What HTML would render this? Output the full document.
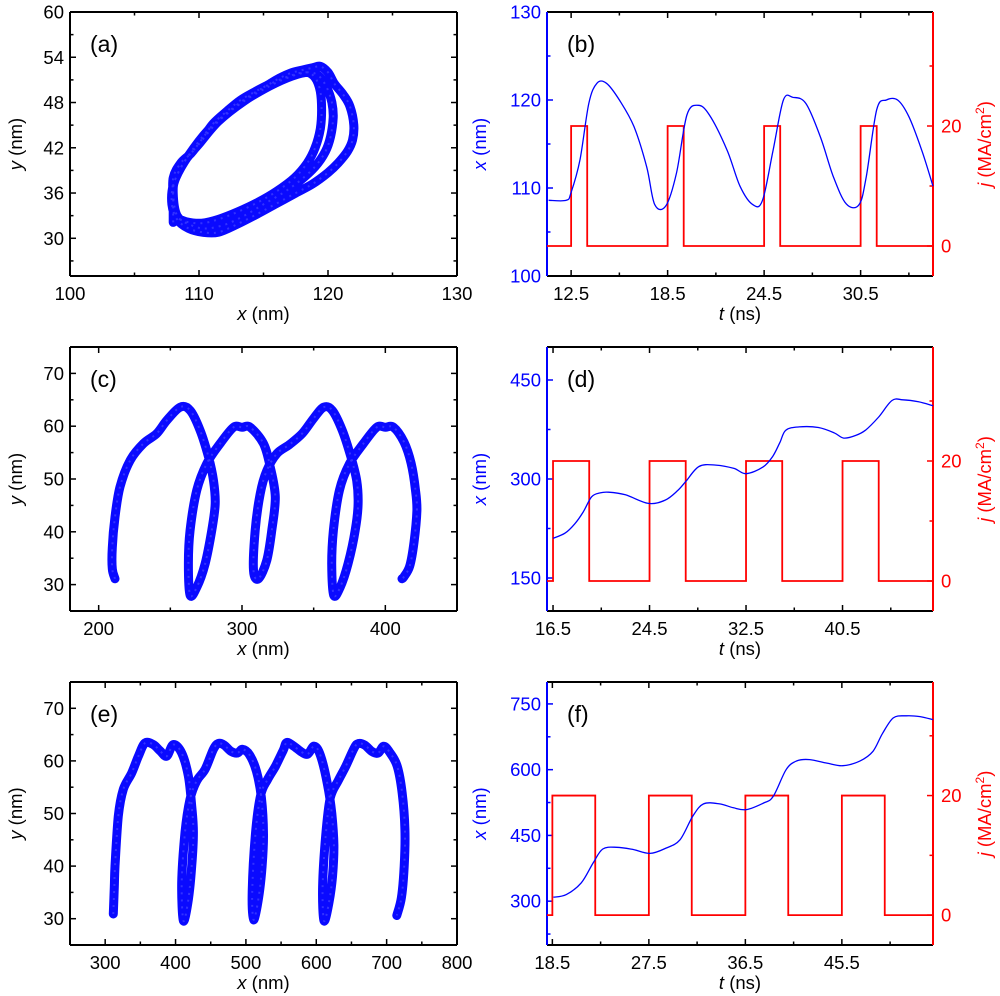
<!DOCTYPE html>
<html><head><meta charset="utf-8"><style>
body{margin:0;background:#fff}
svg{display:block;font-family:"Liberation Sans",Arial,sans-serif}
</style></head><body>
<svg id="fig" width="1000" height="996" viewBox="0 0 1000 996" xmlns="http://www.w3.org/2000/svg"></svg>
<script>
// ---------- DATA ----------
// (a) trajectory
const aX=[108.0,108.0,108.0,108.6,109.4,110.3,111.1,112.2,113.2,114.3,115.3,116.2,117.1,118.0,118.8,119.4,120.0,120.5,121.2,121.7,122.0,121.9,121.5,120.8,120.0,118.8,117.5,116.0,114.5,113.0,111.5,110.3,109.2,108.3,107.9,108.0,108.8,110.0,111.5,113.5,115.5,117.2,118.5,119.3,119.9,120.3,120.4,120.2,119.8,119.0,117.8,116.5,115.0,113.5,112.0,110.5,109.3,108.3,108.0,108.2,109.2,110.8,112.8,115.0,117.0,118.3,119.0,119.4,119.5,119.4,119.0,118.4,117.4,116.0,114.6,113.0,111.5,110.2,109.0,108.2];
const aY=[32.1,35,38,40,41.3,43.3,45.2,46.9,48.3,49.4,50.3,51.2,51.9,52.3,52.6,52.8,52,50.5,49,47.5,45,43,41.5,40,38.7,37.2,36,34.6,33.2,31.9,30.8,30.8,31.3,32.5,34.5,37,40,42.5,45.5,48.2,50.2,51.5,52,51.5,50,48,46,43.5,41.5,39.5,37.6,36,34.5,33,31.8,31.3,31.8,33,36,38,41,44.5,47.5,50,51.5,52,51.3,49.5,47,44.5,42,40,38,36.2,34.8,33.5,32.5,32,32.2,32.8];
// (c) trajectory
const cX=[211.4,209.5,209.5,211.4,214.9,221.9,231.2,240.5,247.5,256.8,263.8,270.8,276.6,280.1,281.3,278.9,274.3,268.5,263.8,262.6,263.8,268.5,275.4,284.7,294.1,300,305.7,315,319.7,323.2,320.8,317.3,311.5,308,309.2,312.7,317.3,324.3,333,342,350,357,363,370,376,380,381,379,374,368.5,364,362.6,363.8,368,375,384.7,394,400,405.7,413,418,421,422,420,417,413,411.6];
const cY=[31.1,33,37,42.8,48.5,53.5,56.7,58.6,61.1,63.6,63,59.2,54.2,49.7,45.3,40.3,34,29.5,28,34,40.3,47.9,52.9,56.7,59.8,59.8,59.8,56.7,52.3,46.6,40.3,34.6,31.1,32.7,40.3,47.2,51.6,54.8,56.5,58.6,61.5,63.6,63,59.2,54.2,49.7,45.3,40.3,34,29.5,28,34,40.3,47.9,52.9,56.7,59.8,59.8,59.8,57,53,48,44,38,33.5,31.5,31.1];
// (e) trajectory
const eX=[311.6,313,314,318.7,325.8,337.7,347.2,356.6,368.5,378,387.4,396.9,408.8,418.2,423,425.4,423,418.2,411.1,408.8,413.5,420.6,430,442,453.8,460.9,469,479,488,495,505,515,522,525,523,518,511,509,513.5,521,531,542,553,558,568,579,588,597,606,616,622,625,623,618,611,609,613.5,620,631,642,654,660,669,679,688,696,705,715,722,726,725,721,714.4];
const eY=[30.9,36,40,49.5,54.6,57.7,60.9,63.4,63.1,61.9,60.9,63.1,61.5,57.1,51.4,46.4,40,33.7,29.6,36.9,46.4,52.7,56.2,58.4,62.2,63.3,63,61.8,61.5,62.2,61.2,58,53,46,40,34,29.8,35,46,53.5,56.5,59,62,63.5,62.8,61.7,61.3,62.8,61,55.5,50,44,38,33,29.6,36,46,53,56.2,59,62.5,63.3,63,61.8,61.5,62.8,61.5,59,54,47,40,34,30.6];
// (b) x(t) and j(t)
const bT=[11.1,12.2,12.5,13.05,13.6,14.1,14.7,15.5,16.4,17.2,17.7,18.4,19.05,19.7,20.4,21.1,22.2,23.0,23.8,24.4,25.06,25.7,26.3,27.1,28.0,28.8,29.6,30.4,30.85,31.5,32.1,32.8,33.5,34.3,35.0];
const bXv=[108.6,108.6,109.5,113.2,119.6,121.9,121.9,120,117,112.4,108.1,108,111.7,118.3,119.4,118.3,114.3,110.2,108.1,108.6,114.3,120,120.3,119.6,115.8,111.3,108.2,108.1,111.3,118.9,120,120,118.1,114.3,110.2];
const bPulseStart=[12.5,18.5,24.5,30.5];
const bPulseEnd=[13.5,19.5,25.5,31.5];
// (d)
const dT=[16.5,17.5,18.3,19.0,19.7,20.4,21.1,22.5,24.4,25.8,26.8,27.5,28.6,30.0,31.5,32.5,33.9,34.7,35.3,35.8,36.9,38.5,39.8,40.6,41.6,42.4,43.5,44.6,45.5,46.8,48.0];
const dXv=[210,218,232,250,273,279,280,276,263,268,282,296,319,321,316,308,318,334,355,374,379,378,370,362,366,374,394,419,420,417,411];
const dPulseStart=[16.5,24.5,32.5,40.5];
const dPulseEnd=[19.5,27.5,35.5,43.5];
// (f)
const fT=[18.6,19.8,21.2,22.3,23.2,24.5,26.0,27.6,29.1,30.4,31.6,32.6,34.1,35.4,36.6,38.2,39.1,40.3,41.3,42.5,44.1,45.6,47.2,48.4,49.3,50.3,51.5,52.8,54.0];
const fXv=[309,315,342,387,419,423,418,409,421,440,494,522,522,513,509,524,539,600,620,623,615,609,620,642,683,718,723,721,714];
const fPulseStart=[18.5,27.5,36.5,45.5];
const fPulseEnd=[22.5,31.5,40.5,49.5];
const jHigh=20;
// tick labels
const aXTicks=[100,110,120,130], aYTicks=[30,36,42,48,54,60];
const cXTicks=[200,300,400], cYTicks=[30,40,50,60,70];
const eXTicks=[300,400,500,600,700,800], eYTicks=[30,40,50,60,70];
const bTTicks=[12.5,18.5,24.5,30.5], bYTicks=[100,110,120,130];
const dTTicks=[16.5,24.5,32.5,40.5], dYTicks=[150,300,450];
const fTTicks=[18.5,27.5,36.5,45.5], fYTicks=[300,450,600,750];
const jTicks=[0,20];

// ---------- DRAW ----------
const NS="http://www.w3.org/2000/svg";
const svg=document.getElementById('fig');
const FS=18.5;
function mk(tag,attrs,parent){const e=document.createElementNS(NS,tag);for(const k in attrs)e.setAttribute(k,attrs[k]);(parent||svg).appendChild(e);return e;}
function scale(d0,d1,r0,r1){return v=>r0+(v-d0)*(r1-r0)/(d1-d0);}

function panel(P){
  const g=mk('g',{});
  
  
  const [L,T,R,B]=P.box;
  const sx=scale(P.xd[0],P.xd[1],L,R), sy=scale(P.yd[0],P.yd[1],B,T);
  P.sx=sx;P.sy=sy;
  const lc=P.leftColor||'#000', rc=P.rightColor||'#000';
  function tick(x1,y1,x2,y2,c){mk('line',{x1,y1,x2,y2,stroke:c,'stroke-width':1.5},g);}
  P.xMajor.forEach(v=>{const x=sx(v);tick(x,B,x,B-6,'#000');tick(x,T,x,T+6,'#000');});
  P.xMinor.forEach(v=>{const x=sx(v);tick(x,B,x,B-3.5,'#000');tick(x,T,x,T+3.5,'#000');});
  P.yMajor.forEach(v=>{const y=sy(v);tick(L,y,L+6,y,lc);if(!P.sj)tick(R,y,R-6,y,'#000');});
  P.yMinor.forEach(v=>{const y=sy(v);tick(L,y,L+3.5,y,lc);if(!P.sj)tick(R,y,R-3.5,y,'#000');});
  if(P.sj){
    P.jMajor.forEach(v=>{const y=P.sj(v);tick(R,y,R-6,y,rc);});
    P.jMinor.forEach(v=>{const y=P.sj(v);tick(R,y,R-3.5,y,rc);});
  }
  mk('line',{x1:L,y1:T,x2:R,y2:T,stroke:'#000','stroke-width':2},g);
  mk('line',{x1:L,y1:B,x2:R,y2:B,stroke:'#000','stroke-width':2},g);
  mk('line',{x1:L,y1:T,x2:L,y2:B,stroke:lc,'stroke-width':2},g);
  mk('line',{x1:R,y1:T,x2:R,y2:B,stroke:rc,'stroke-width':2},g);
  P.xLabels.forEach(v=>{const t=mk('text',{x:sx(v),y:B+24,'text-anchor':'middle','font-size':FS,fill:'#000'},g);t.textContent=String(v);});
  P.yLabels.forEach(v=>{const t=mk('text',{x:L-6,y:sy(v)+6.5,'text-anchor':'end','font-size':FS,fill:lc},g);t.textContent=String(v);});
  if(P.sj) P.jLabels.forEach(v=>{const t=mk('text',{x:R+8,y:P.sj(v)+6.5,'text-anchor':'start','font-size':FS,fill:rc},g);t.textContent=String(v);});
  const xt=mk('text',{x:(L+R)/2,y:B+44,'text-anchor':'middle','font-size':FS,fill:'#000'},g);
  
  const i1=mk('tspan',{'font-style':'italic'},xt);i1.textContent=P.xTitle[0];const i2=mk('tspan',{},xt);i2.textContent=P.xTitle[1];
  const cy=(T+B)/2;
  const ytx=P.yTitleX;
  const yt=mk('text',{x:ytx,y:cy,'text-anchor':'middle','font-size':FS,fill:lc,transform:`rotate(-90 ${ytx} ${cy})`},g);
  
  const y1=mk('tspan',{'font-style':'italic'},yt);y1.textContent=P.yTitle[0];const y2=mk('tspan',{},yt);y2.textContent=' (nm)';
  if(P.sj){
    const jx=R+58;
    const jt=mk('text',{x:jx,y:cy,'text-anchor':'middle','font-size':FS,fill:rc,transform:`rotate(-90 ${jx} ${cy})`},g);
    
    const j1=mk('tspan',{'font-style':'italic'},jt);j1.textContent='j';
    const j2=mk('tspan',{},jt);j2.textContent=' (MA/cm';
    const j3=mk('tspan',{'font-size':12,dy:-7},jt);j3.textContent='2';
    const j4=mk('tspan',{dy:7},jt);j4.textContent=')';
  }
  const lab=mk('text',{x:L+20,y:T+40,'font-size':23,fill:'#000'},g);
  
  lab.textContent='('+P.id+')';
  return g;
}
// Catmull-Rom smooth path
function smooth(xs,ys,sx,sy){
  const p=xs.map((v,i)=>[sx(v),sy(ys[i])]);
  let d='M'+p[0][0].toFixed(1)+','+p[0][1].toFixed(1);
  for(let i=0;i<p.length-1;i++){
    const p0=p[i-1]||p[i],p1=p[i],p2=p[i+1],p3=p[i+2]||p2;
    const c1=[p1[0]+(p2[0]-p0[0])/6,p1[1]+(p2[1]-p0[1])/6];
    const c2=[p2[0]-(p3[0]-p1[0])/6,p2[1]-(p3[1]-p1[1])/6];
    d+='C'+c1[0].toFixed(1)+','+c1[1].toFixed(1)+' '+c2[0].toFixed(1)+','+c2[1].toFixed(1)+' '+p2[0].toFixed(1)+','+p2[1].toFixed(1);
  }
  return d;
}
function traj(P,xs,ys){
  const d=smooth(xs,ys,P.sx,P.sy);
  const p=mk('path',{d,fill:'none',stroke:'#0a0aff','stroke-width':9,'stroke-linejoin':'round','stroke-linecap':'round'});
  
  
  const p2=mk('path',{d,fill:'none',stroke:'#5a5aff','stroke-width':2,'stroke-opacity':0.5,'stroke-dasharray':'2 5'});
  
  
}
function timeSeries(P,ts,xs,ps,pe){
  const sj=P.sj;const t0=P.xd[0],t1=P.xd[1];
  let d='M'+P.sx(t0)+','+sj(0);
  ps.forEach((s,i)=>{d+='L'+P.sx(s)+','+sj(0)+'L'+P.sx(s)+','+sj(jHigh)+'L'+P.sx(pe[i])+','+sj(jHigh)+'L'+P.sx(pe[i])+','+sj(0);});
  d+='L'+P.sx(t1)+','+sj(0);
  const r=mk('path',{d,fill:'none',stroke:'#ff0000','stroke-width':1.8});
  
  
  const b=mk('path',{d:smooth(ts,xs,P.sx,P.sy),fill:'none',stroke:'#0000ff','stroke-width':1.3,'stroke-linejoin':'round'});
  
  
}

const A={id:'a',box:[70,12,457,276],xd:[100,130],yd:[25,60],xMajor:aXTicks,xMinor:[105,115,125],yMajor:aYTicks,yMinor:[27,33,39,45,51,57],xLabels:aXTicks,yLabels:aYTicks,xTitle:['x',' (nm)'],yTitle:['y'],yTitleX:22};
const C={id:'c',box:[70,347,457,611],xd:[180,450],yd:[25,75],xMajor:cXTicks,xMinor:[250,350],yMajor:cYTicks,yMinor:[35,45,55,65],xLabels:cXTicks,yLabels:cYTicks,xTitle:['x',' (nm)'],yTitle:['y'],yTitleX:22};
const E={id:'e',box:[70,682,457,945],xd:[250,800],yd:[25,75],xMajor:eXTicks,xMinor:[350,450,550,650,750],yMajor:eYTicks,yMinor:[35,45,55,65],xLabels:eXTicks,yLabels:eYTicks,xTitle:['x',' (nm)'],yTitle:['y'],yTitleX:22};
function jscale(box){return scale(-5,39,box[3],box[1]);}
const Bp={id:'b',box:[547,12,933,276],xd:[11,35],yd:[100,130],xMajor:bTTicks,xMinor:[15.5,21.5,27.5,33.5],yMajor:bYTicks,yMinor:[105,115,125],xLabels:bTTicks,yLabels:bYTicks,xTitle:['t',' (ns)'],yTitle:['x'],yTitleX:486,leftColor:'#0000ff',rightColor:'#ff0000',jMajor:jTicks,jMinor:[10,30],jLabels:jTicks};
const D={id:'d',box:[547,347,933,611],xd:[16,48],yd:[100,500],xMajor:dTTicks,xMinor:[20.5,28.5,36.5,44.5],yMajor:dYTicks,yMinor:[225,375],xLabels:dTTicks,yLabels:dYTicks,xTitle:['t',' (ns)'],yTitle:['x'],yTitleX:486,leftColor:'#0000ff',rightColor:'#ff0000',jMajor:jTicks,jMinor:[10,30],jLabels:jTicks};
const F={id:'f',box:[547,682,933,945],xd:[18,54],yd:[200,800],xMajor:fTTicks,xMinor:[23,32,41,50],yMajor:fYTicks,yMinor:[225,375,525,675],xLabels:fTTicks,yLabels:fYTicks,xTitle:['t',' (ns)'],yTitle:['x'],yTitleX:486,leftColor:'#0000ff',rightColor:'#ff0000',jMajor:jTicks,jMinor:[10,30],jLabels:jTicks};
[Bp,D,F].forEach(P=>P.sj=jscale(P.box));

panel(A);panel(C);panel(E);panel(Bp);panel(D);panel(F);
traj(A,aX,aY);traj(C,cX,cY);traj(E,eX,eY);
timeSeries(Bp,bT,bXv,bPulseStart,bPulseEnd);
timeSeries(D,dT,dXv,dPulseStart,dPulseEnd);
timeSeries(F,fT,fXv,fPulseStart,fPulseEnd);
</script>
</body></html>
